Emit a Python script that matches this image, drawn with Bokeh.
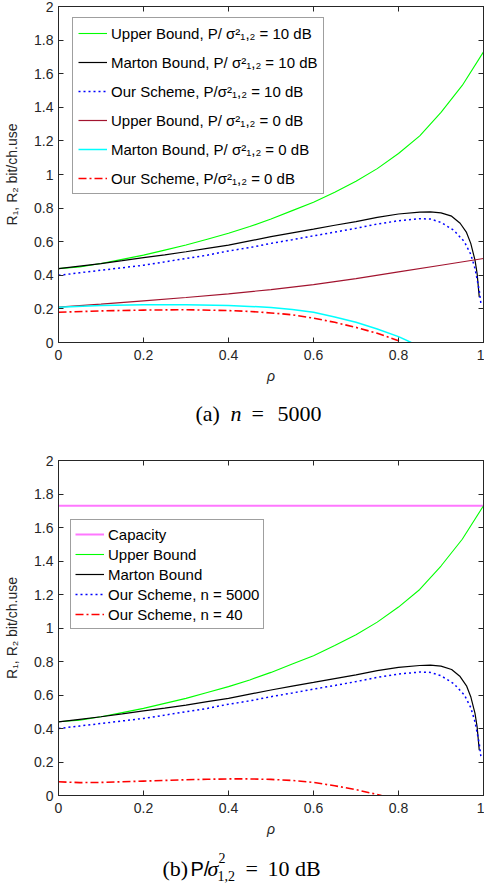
from bokeh.plotting import figure
from bokeh.models import (Range1d, LinearAxis, FixedTicker, Legend, LegendItem,
                          Label, CustomJSTickFormatter)
from bokeh.layouts import column
from bokeh.embed import file_html
from bokeh.resources import INLINE

# ---------------- data ----------------
rho_ub10 = [0.00, 0.05, 0.10, 0.15, 0.20, 0.25, 0.30, 0.35, 0.40, 0.45, 0.50,
            0.55, 0.60, 0.65, 0.70, 0.75, 0.80, 0.85, 0.90, 0.95, 1.00]
ub_10db = [0.440, 0.450, 0.470, 0.495, 0.520, 0.550, 0.580, 0.615, 0.650, 0.690, 0.735,
           0.785, 0.835, 0.895, 0.960, 1.035, 1.125, 1.230, 1.370, 1.530, 1.730]

rho_marton10 = [0.00, 0.05, 0.10, 0.15, 0.20, 0.25, 0.30, 0.35, 0.40, 0.45, 0.50,
                0.55, 0.60, 0.65, 0.70, 0.75, 0.80, 0.85, 0.875, 0.90, 0.925,
                0.945, 0.96, 0.97, 0.98, 0.985, 0.99]
marton_10db = [0.440, 0.455, 0.470, 0.487, 0.505, 0.522, 0.540, 0.560, 0.580, 0.605, 0.630,
               0.653, 0.675, 0.698, 0.720, 0.745, 0.765, 0.776, 0.778, 0.772, 0.752,
               0.710, 0.655, 0.590, 0.490, 0.410, 0.270]

rho_ours10 = [0.00, 0.05, 0.10, 0.15, 0.20, 0.25, 0.30, 0.35, 0.40, 0.45, 0.50,
              0.55, 0.60, 0.65, 0.70, 0.75, 0.80, 0.85, 0.875, 0.90, 0.93,
              0.955, 0.97, 0.98, 0.99, 0.994]
ours_10db = [0.400, 0.415, 0.430, 0.445, 0.460, 0.480, 0.500, 0.520, 0.545, 0.565, 0.590,
             0.612, 0.635, 0.657, 0.680, 0.705, 0.725, 0.737, 0.735, 0.715, 0.668,
             0.600, 0.525, 0.440, 0.310, 0.230]

rho_ub0 = [0.0, 0.1, 0.2, 0.3, 0.4, 0.5, 0.6, 0.7, 0.8, 0.9, 1.0]
ub_0db = [0.210, 0.228, 0.248, 0.268, 0.290, 0.315, 0.345, 0.380, 0.420, 0.460, 0.500]

rho_marton0 = [0.0, 0.1, 0.2, 0.3, 0.4, 0.45, 0.5, 0.55, 0.6, 0.65, 0.7, 0.75, 0.8, 0.83]
marton_0db = [0.210, 0.220, 0.225, 0.225, 0.220, 0.215, 0.208, 0.197, 0.180, 0.152,
              0.120, 0.080, 0.035, 0.000]

rho_ours0 = [0.0, 0.1, 0.2, 0.3, 0.4, 0.45, 0.5, 0.55, 0.6, 0.65, 0.7, 0.75, 0.8, 0.805]
ours_0db = [0.180, 0.188, 0.193, 0.195, 0.190, 0.185, 0.176, 0.165, 0.145, 0.120,
            0.090, 0.055, 0.010, 0.000]

rho_cap = [0.0, 1.0]
capacity_10db = [1.73, 1.73]

rho_n40 = [0.0, 0.05, 0.1, 0.15, 0.2, 0.25, 0.3, 0.35, 0.4, 0.45, 0.5, 0.55, 0.6,
           0.65, 0.7, 0.76]
ours_n40 = [0.082, 0.077, 0.078, 0.082, 0.086, 0.090, 0.094, 0.097, 0.099, 0.099,
            0.096, 0.090, 0.078, 0.058, 0.035, 0.000]

x_ticks = [0, 0.2, 0.4, 0.6, 0.8, 1]
x_tick_labels = ["0", "0.2", "0.4", "0.6", "0.8", "1"]
y_ticks = [0, 0.2, 0.4, 0.6, 0.8, 1, 1.2, 1.4, 1.6, 1.8, 2]
y_tick_labels = ["0", "0.2", "0.4", "0.6", "0.8", "1", "1.2", "1.4", "1.6", "1.8", "2"]

labels_a = ["Upper Bound, P/ σ²₁,₂ = 10 dB", "Marton Bound, P/ σ²₁,₂ = 10 dB",
            "Our Scheme, P/σ²₁,₂ = 10 dB", "Upper Bound, P/ σ²₁,₂ = 0 dB",
            "Marton Bound, P/ σ²₁,₂ = 0 dB", "Our Scheme, P/σ²₁,₂ = 0 dB"]
labels_b = ["Capacity", "Upper Bound", "Marton Bound", "Our Scheme, n = 5000",
            "Our Scheme, n = 40"]

# ---------------- styling helpers ----------------
AX = "#262626"
SANS = "Liberation Sans"
SERIF = "Liberation Serif"
W = 484


def make_fig(height, border_top, border_bottom):
    p = figure(width=W, height=height, x_range=Range1d(0, 1), y_range=Range1d(0, 2),
               output_backend="svg", toolbar_location=None,
               min_border_left=58, min_border_right=1,
               min_border_top=border_top, min_border_bottom=border_bottom,
               background_fill_color="white", border_fill_color="white")
    p.xgrid.visible = False
    p.ygrid.visible = False
    p.outline_line_color = AX
    p.outline_line_width = 1
    for ax, ticks, labs in [(p.xaxis[0], x_ticks, x_tick_labels),
                            (p.yaxis[0], y_ticks, y_tick_labels)]:
        ax.ticker = FixedTicker(ticks=ticks)
        ax.major_label_overrides = dict(zip(ticks, labs))
        ax.major_tick_in = 5
        ax.major_tick_out = 0
        ax.minor_tick_in = 0
        ax.minor_tick_out = 0
        ax.axis_line_color = AX
        ax.major_tick_line_color = AX
        ax.major_label_text_font = SANS
        ax.major_label_text_font_size = "14px"
        ax.major_label_text_color = AX
        ax.axis_label_text_font = SANS
        ax.axis_label_text_font_size = "14px"
        ax.axis_label_text_color = AX
    p.xaxis.axis_label = "ρ"
    p.xaxis.axis_label_text_font_style = "italic"
    p.xaxis.major_label_standoff = 7
    p.xaxis.axis_label_standoff = 5
    p.yaxis.axis_label = "R₁, R₂ bit/ch.use"
    p.yaxis.axis_label_text_font_style = "normal"
    p.yaxis.major_label_standoff = 5
    p.yaxis.axis_label_standoff = 11
    blank = CustomJSTickFormatter(code="return ''")
    for loc, ticks in [("above", x_ticks), ("right", y_ticks)]:
        ax = LinearAxis(ticker=FixedTicker(ticks=ticks), formatter=blank,
                        major_tick_in=5, major_tick_out=0, minor_tick_in=0,
                        minor_tick_out=0, major_label_standoff=0,
                        axis_line_color=AX, major_tick_line_color=AX)
        p.add_layout(ax, loc)
    return p


def make_legend(items, location, spacing, padding):
    return Legend(items=items, location=location, padding=padding, spacing=spacing,
                  margin=0, glyph_width=29, glyph_height=20, label_height=20,
                  label_standoff=4, label_text_font=SANS, label_text_font_size="15px",
                  label_text_color="black", border_line_color="#404040",
                  border_line_width=1, background_fill_color="white",
                  background_fill_alpha=1)


def caption_fig(height):
    c = figure(width=W, height=height, x_range=Range1d(0, W), y_range=Range1d(0, height),
               x_axis_type=None, y_axis_type=None, output_backend="svg",
               toolbar_location=None, min_border=0, min_border_left=0,
               min_border_right=0, min_border_top=0, min_border_bottom=0,
               background_fill_color="white", border_fill_color="white")
    c.outline_line_color = None
    return c


def cap_label(c, x, y, text, size="22px", font=SERIF, style="normal"):
    c.add_layout(Label(x=x, y=y, x_units="screen", y_units="screen", text=text,
                       text_font=font, text_font_size=size, text_font_style=style,
                       text_baseline="middle", text_align="left", text_color="black"))


# ---------------- panel (a) ----------------
pa = make_fig(387, 6, 45)
r1 = pa.line(rho_ub10, ub_10db, line_color="#00ff00", line_width=1.1)
r2 = pa.line(rho_marton10, marton_10db, line_color="black", line_width=1.2)
r3 = pa.line(rho_ours10, ours_10db, line_color="#0000ff", line_width=1.5, line_dash="2 3")
r4 = pa.line(rho_ub0, ub_0db, line_color="#a2142f", line_width=1.2)
r5 = pa.line(rho_marton0, marton_0db, line_color="#00ffff", line_width=1.5)
r6 = pa.line(rho_ours0, ours_0db, line_color="#ff0000", line_width=1.6, line_dash="8 3 2 3")
items_a = [LegendItem(label=lab, renderers=[r]) for lab, r in
           zip(labels_a, [r1, r2, r3, r4, r5, r6])]
pa.add_layout(make_legend(items_a, (14, 148), 9, 5))

# caption frames line up with the plot frames (left edge at x = 58 px)
ca = caption_fig(53)
cap_label(ca, 137, 27, "(a)")
cap_label(ca, 172, 27, "n", style="italic")
cap_label(ca, 193, 27, "=")
cap_label(ca, 219, 27, "5000")

# ---------------- panel (b) ----------------
pb = make_fig(400, 20, 45)
q0 = pb.line(rho_cap, capacity_10db, line_color="#ff77ff", line_width=2)
q1 = pb.line(rho_ub10, ub_10db, line_color="#00ff00", line_width=1.1)
q2 = pb.line(rho_marton10, marton_10db, line_color="black", line_width=1.2)
q3 = pb.line(rho_ours10, ours_10db, line_color="#0000ff", line_width=1.5, line_dash="2 3")
q4 = pb.line(rho_n40, ours_n40, line_color="#ff0000", line_width=1.6, line_dash="8 3 2 3")
items_b = [LegendItem(label=lab, renderers=[r]) for lab, r in
           zip(labels_b, [q0, q1, q2, q3, q4])]
pb.add_layout(make_legend(items_b, (12, 166), 0, 4))

cb = caption_fig(49)
cap_label(cb, 104, 21, "(b)")
cap_label(cb, 132, 21, "P/", font=SANS, size="20px")
cap_label(cb, 149, 21, "σ", style="italic")
cap_label(cb, 160, 32, "2", size="14px")
cap_label(cb, 159, 14, "1,2", size="14px")
cap_label(cb, 187, 21, "=")
cap_label(cb, 209, 21, "10 dB")

layout = column(pa, ca, pb, cb, spacing=0)
open("out.html", "w").write(file_html(layout, INLINE))
